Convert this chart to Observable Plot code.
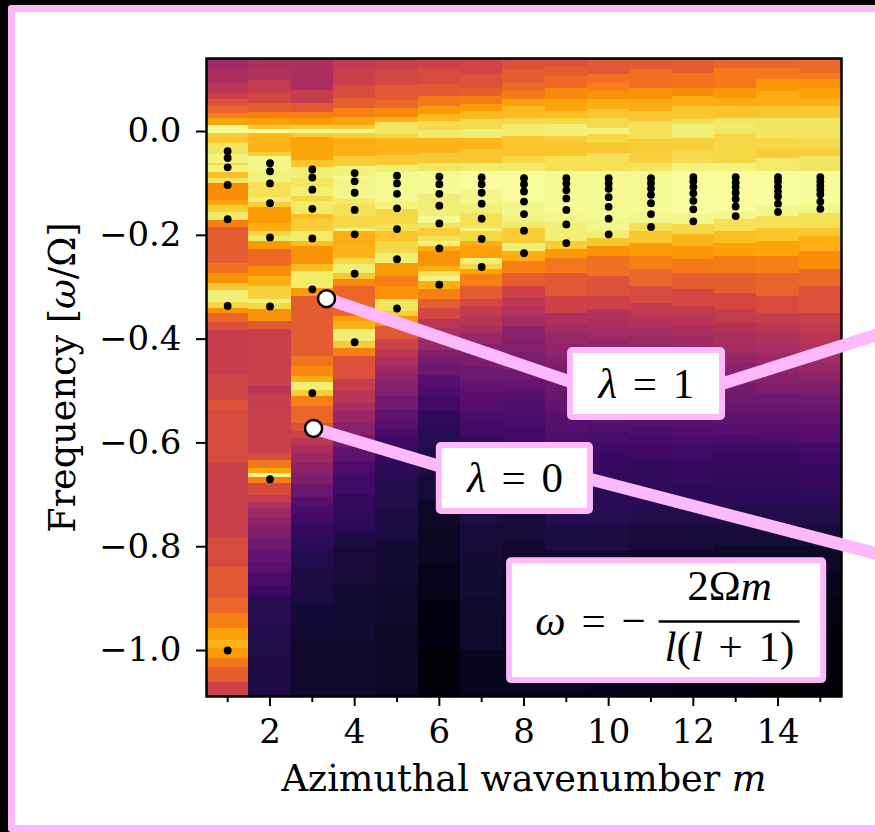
<!DOCTYPE html>
<html><head><meta charset="utf-8">
<script src="https://cdn.jsdelivr.net/npm/d3@7"></script>
<script src="https://cdn.jsdelivr.net/npm/@observablehq/plot@0.6"></script>
<style>
html,body{margin:0;padding:0;background:#000;width:875px;height:832px;overflow:hidden}
#frame{position:absolute;left:8px;top:5px;width:900px;height:813px;background:#fff;border:7px solid #fdb9fc;border-radius:3px}
#chart{position:absolute;left:0;top:0}
</style></head><body>
<div id="frame"></div><div id="chart"></div>
<script>
// Each band: [upper frequency edge, normalised power]
const column1=[[.141,.43],[.119,.46],[.092,.50],[.073,.54],[.062,.60],[.048,.65],[.035,.72],[.025,.80],[.012,.98],[-.004,.88],[-.012,.87],[-.023,.93],[-.044,.96],[-.062,.90],[-.066,.96],[-.079,.85],[-.091,.93],[-.100,.75],[-.133,.80],[-.143,.88],[-.156,.94],[-.171,.72],[-.185,.63],[-.254,.68],[-.274,.76],[-.293,.87],[-.306,.95],[-.329,.90],[-.341,.76],[-.351,.66],[-.368,.60],[-.383,.53],[-.470,.56],[-.518,.60],[-.538,.58],[-.640,.54],[-.782,.58],[-.840,.62],[-.898,.66],[-.929,.72],[-.958,.79],[-.981,.83],[-.996,.78],[-1.015,.70],[-1.033,.64],[-1.062,.55]];
const column2=[[.141,.46],[.119,.47],[.098,.52],[.073,.57],[.054,.63],[.037,.72],[.025,.79],[.012,.87],[.004,.99],[-.004,.84],[-.012,.83],[-.040,.88],[-.048,.97],[-.075,.96],[-.098,.92],[-.127,.95],[-.137,.88],[-.146,.78],[-.177,.82],[-.193,.90],[-.202,.94],[-.212,.78],[-.227,.67],[-.260,.75],[-.279,.82],[-.299,.89],[-.324,.95],[-.331,.90],[-.343,.76],[-.366,.62],[-.382,.54],[-.491,.49],[-.507,.53],[-.536,.54],[-.620,.58],[-.634,.70],[-.649,.80],[-.659,.97],[-.667,.72],[-.678,.58],[-.701,.52],[-.715,.47],[-.726,.42],[-.745,.38],[-.763,.35],[-.785,.31],[-.807,.28],[-.83,.25],[-.852,.22],[-.875,.18],[-.898,.14],[-.95,.13],[-1.00,.12]];
const column3=[[.141,.46],[.079,.53],[.054,.62],[.037,.72],[.025,.78],[.012,.88],[.004,.98],[-.004,.87],[-.012,.80],[-.056,.86],[-.069,.95],[-.091,.93],[-.108,.95],[-.125,.90],[-.135,.94],[-.160,.85],[-.170,.88],[-.193,.94],[-.212,.85],[-.222,.76],[-.256,.84],[-.270,.94],[-.303,.78],[-.318,.63],[-.434,.69],[-.453,.74],[-.472,.82],[-.484,.95],[-.499,.88],[-.511,.72],[-.530,.66],[-.563,.60],[-.578,.55],[-.592,.50],[-.605,.46],[-.62,.42],[-.64,.38],[-.659,.35],[-.68,.30],[-.705,.25],[-.72,.22],[-.736,.20],[-.76,.17],[-.782,.15],[-.81,.13],[-.84,.11],[-.91,.095],[-.98,.08]];
const column4=[[.141,.52],[.119,.54],[.089,.58],[.064,.64],[.044,.72],[.027,.80],[.012,.88],[.004,.97],[-.004,.88],[-.013,.82],[-.048,.88],[-.067,.96],[-.087,.98],[-.091,.97],[-.131,.94],[-.141,.92],[-.164,.90],[-.187,.96],[-.193,.82],[-.222,.83],[-.245,.90],[-.256,.95],[-.274,.87],[-.285,.74],[-.299,.66],[-.356,.78],[-.366,.82],[-.382,.95],[-.405,.88],[-.418,.72],[-.434,.60],[-.478,.53],[-.50,.49],[-.524,.45],[-.54,.41],[-.563,.37],[-.585,.32],[-.609,.27],[-.635,.23],[-.659,.20],[-.70,.17],[-.736,.15],[-.77,.12],[-.801,.10],[-.88,.09],[-.98,.08]];
const column5=[[.141,.54],[.118,.57],[.089,.62],[.060,.66],[.044,.74],[.027,.83],[.017,.93],[-.006,.90],[-.013,.83],[-.046,.87],[-.066,.95],[-.079,.98],[-.135,.96],[-.150,.90],[-.179,.92],[-.193,.86],[-.212,.90],[-.235,.95],[-.254,.78],[-.279,.72],[-.299,.76],[-.324,.93],[-.347,.88],[-.356,.77],[-.376,.62],[-.401,.55],[-.42,.50],[-.435,.46],[-.453,.42],[-.47,.39],[-.486,.36],[-.51,.32],[-.536,.28],[-.555,.25],[-.574,.22],[-.59,.19],[-.609,.17],[-.64,.15],[-.672,.13],[-.73,.11],[-.79,.09],[-.87,.08],[-.95,.07]];
const column6=[[.141,.55],[.121,.58],[.091,.62],[.067,.70],[.048,.77],[.033,.84],[.019,.91],[.002,.94],[-.013,.83],[-.042,.87],[-.062,.93],[-.077,.98],[-.121,.95],[-.164,.98],[-.177,.93],[-.187,.88],[-.202,.92],[-.212,.96],[-.222,.82],[-.231,.76],[-.260,.82],[-.270,.92],[-.279,.96],[-.289,.82],[-.304,.72],[-.324,.64],[-.341,.57],[-.362,.50],[-.38,.46],[-.403,.42],[-.422,.35],[-.44,.32],[-.453,.30],[-.47,.26],[-.49,.23],[-.51,.20],[-.54,.16],[-.575,.14],[-.61,.12],[-.66,.10],[-.71,.07],[-.76,.06],[-.83,.045],[-.904,.03],[-1.0,.015]];
const column7=[[.141,.56],[.110,.60],[.083,.64],[.067,.71],[.052,.78],[.039,.84],[.023,.91],[.004,.95],[-.013,.83],[-.035,.87],[-.062,.94],[-.077,.99],[-.112,.97],[-.141,.95],[-.158,.92],[-.187,.96],[-.193,.90],[-.212,.82],[-.222,.79],[-.245,.95],[-.256,.90],[-.266,.80],[-.276,.72],[-.299,.63],[-.324,.57],[-.337,.52],[-.356,.49],[-.376,.46],[-.39,.41],[-.41,.37],[-.43,.34],[-.455,.31],[-.48,.28],[-.50,.26],[-.52,.24],[-.54,.22],[-.56,.20],[-.59,.17],[-.62,.15],[-.66,.13],[-.71,.11],[-.76,.10],[-.82,.09],[-.90,.08],[-1.0,.05]];
const column8=[[.141,.60],[.119,.63],[.092,.67],[.077,.71],[.062,.79],[.048,.84],[.025,.90],[.013,.94],[-.010,.87],[-.023,.86],[-.048,.90],[-.062,.94],[-.077,.99],[-.135,.97],[-.164,.96],[-.177,.94],[-.187,.88],[-.216,.95],[-.231,.82],[-.250,.72],[-.274,.64],[-.299,.55],[-.32,.51],[-.337,.48],[-.356,.44],[-.376,.38],[-.40,.36],[-.425,.34],[-.46,.31],[-.48,.28],[-.50,.25],[-.52,.23],[-.545,.22],[-.57,.20],[-.60,.18],[-.63,.16],[-.66,.14],[-.70,.12],[-.74,.10],[-.79,.08],[-.85,.07],[-.93,.06],[-1.0,.05]];
const column9=[[.141,.60],[.125,.63],[.106,.67],[.083,.74],[.062,.80],[.039,.85],[.025,.90],[.013,.95],[-.010,.88],[-.023,.86],[-.048,.92],[-.077,.98],[-.158,.97],[-.177,.95],[-.212,.88],[-.227,.78],[-.245,.70],[-.274,.62],[-.318,.55],[-.351,.47],[-.37,.44],[-.389,.41],[-.41,.39],[-.434,.36],[-.455,.33],[-.48,.31],[-.50,.29],[-.518,.28],[-.54,.26],[-.557,.25],[-.58,.23],[-.60,.21],[-.62,.19],[-.65,.17],[-.68,.16],[-.72,.14],[-.76,.11],[-.81,.08],[-.87,.06],[-.95,.05]];
const column10=[[.141,.62],[.110,.68],[.092,.72],[.077,.76],[.062,.82],[.042,.87],[.025,.91],[.006,.96],[-.006,.90],[-.023,.87],[-.042,.92],[-.077,.98],[-.168,.97],[-.193,.95],[-.206,.87],[-.222,.76],[-.241,.68],[-.279,.60],[-.318,.55],[-.343,.48],[-.362,.46],[-.382,.43],[-.40,.40],[-.42,.37],[-.44,.35],[-.46,.33],[-.48,.31],[-.50,.29],[-.52,.27],[-.54,.26],[-.56,.24],[-.58,.22],[-.60,.20],[-.62,.18],[-.65,.17],[-.68,.15],[-.72,.14],[-.76,.11],[-.81,.08],[-.87,.06],[-.93,.05],[-1.0,.045]];
const column11=[[.141,.62],[.119,.68],[.083,.76],[.062,.81],[.039,.87],[.019,.92],[-.015,.88],[-.042,.89],[-.062,.93],[-.077,.98],[-.158,.97],[-.177,.92],[-.193,.87],[-.216,.78],[-.241,.72],[-.266,.66],[-.299,.58],[-.331,.52],[-.346,.50],[-.362,.47],[-.38,.44],[-.395,.42],[-.414,.39],[-.434,.36],[-.453,.34],[-.472,.32],[-.491,.30],[-.511,.28],[-.53,.27],[-.549,.25],[-.568,.23],[-.588,.21],[-.607,.19],[-.63,.17],[-.65,.16],[-.68,.15],[-.72,.13],[-.76,.10],[-.81,.07],[-.87,.05],[-.93,.04],[-1.0,.035]];
const column12=[[.141,.63],[.112,.69],[.083,.74],[.067,.81],[.048,.87],[.023,.92],[.013,.95],[-.013,.89],[-.039,.91],[-.062,.96],[-.077,.99],[-.160,.97],[-.179,.90],[-.198,.83],[-.222,.77],[-.247,.70],[-.274,.63],[-.304,.57],[-.337,.52],[-.357,.49],[-.376,.46],[-.395,.43],[-.414,.40],[-.434,.37],[-.453,.35],[-.472,.33],[-.491,.31],[-.511,.29],[-.53,.27],[-.549,.26],[-.568,.24],[-.588,.22],[-.607,.20],[-.63,.18],[-.65,.17],[-.68,.15],[-.72,.13],[-.76,.10],[-.81,.07],[-.87,.05],[-.93,.03],[-1.0,.025]];
const column13=[[.141,.66],[.121,.70],[.083,.77],[.064,.81],[.048,.86],[.025,.93],[.013,.94],[.004,.93],[-.006,.90],[-.042,.90],[-.062,.96],[-.077,.99],[-.154,.97],[-.170,.92],[-.193,.85],[-.216,.79],[-.241,.71],[-.274,.64],[-.312,.57],[-.343,.52],[-.37,.48],[-.389,.46],[-.408,.44],[-.428,.41],[-.447,.38],[-.466,.36],[-.486,.33],[-.505,.31],[-.524,.29],[-.543,.27],[-.563,.25],[-.582,.22],[-.601,.20],[-.62,.18],[-.64,.17],[-.66,.16],[-.69,.15],[-.72,.13],[-.76,.10],[-.80,.07],[-.85,.05],[-.90,.035],[-.96,.02]];
const column14=[[.141,.66],[.121,.70],[.100,.77],[.077,.81],[.048,.87],[.025,.93],[-.013,.90],[-.033,.88],[-.052,.94],[-.077,.99],[-.145,.97],[-.164,.92],[-.187,.86],[-.212,.80],[-.241,.72],[-.274,.65],[-.318,.58],[-.351,.53],[-.37,.50],[-.389,.47],[-.408,.45],[-.428,.42],[-.447,.39],[-.466,.37],[-.486,.34],[-.505,.31],[-.524,.29],[-.543,.27],[-.563,.25],[-.582,.23],[-.601,.20],[-.62,.18],[-.64,.17],[-.66,.16],[-.69,.15],[-.72,.13],[-.76,.10],[-.80,.07],[-.85,.05],[-.90,.03],[-.96,.015],[-1.02,.01]];
const column15=[[.141,.67],[.112,.70],[.100,.76],[.083,.79],[.064,.82],[.048,.87],[.025,.93],[-.013,.91],[-.033,.89],[-.048,.93],[-.077,.985],[-.141,.97],[-.158,.92],[-.187,.87],[-.202,.82],[-.231,.75],[-.266,.67],[-.299,.60],[-.351,.54],[-.37,.52],[-.389,.49],[-.408,.47],[-.428,.44],[-.447,.41],[-.466,.38],[-.486,.35],[-.505,.32],[-.524,.30],[-.543,.28],[-.563,.26],[-.582,.24],[-.601,.21],[-.62,.19],[-.64,.18],[-.66,.17],[-.69,.15],[-.72,.13],[-.76,.10],[-.80,.07],[-.85,.05],[-.90,.035],[-.96,.02],[-1.02,.015]];
const columns=[column1,column2,column3,column4,column5,column6,column7,column8,column9,column10,column11,column12,column13,column14,column15];

// Observed spectral peaks for each azimuthal wavenumber
const peaks1=[-.038,-.051,-.069,-.103,-.169,-.336,-1.0];
const peaks2=[-.061,-.0765,-.100,-.138,-.204,-.337,-.670];
const peaks3=[-.073,-.0886,-.112,-.149,-.206,-.304,-.504];
const peaks4=[-.080,-.096,-.118,-.151,-.198,-.274,-.406];
const peaks5=[-.085,-.100,-.120,-.148,-.188,-.246,-.341];
const peaks6=[-.087,-.1015,-.120,-.143,-.177,-.225,-.295];
const peaks7=[-.0886,-.1015,-.118,-.139,-.168,-.207,-.261];
const peaks8=[-.090,-.1015,-.1156,-.135,-.159,-.191,-.2345];
const peaks9=[-.090,-.100,-.113,-.129,-.151,-.179,-.215];
const peaks10=[-.090,-.0995,-.1105,-.1265,-.145,-.168,-.198];
const peaks11=[-.090,-.0995,-.110,-.122,-.138,-.159,-.184];
const peaks12=[-.088,-.096,-.107,-.119,-.1335,-.150,-.173];
const peaks13=[-.088,-.098,-.107,-.118,-.130,-.1445,-.163];
const peaks14=[-.088,-.096,-.106,-.1156,-.125,-.139,-.155];
const peaks15=[-.088,-.096,-.104,-.112,-.121,-.135,-.149];
const peaks=[peaks1,peaks2,peaks3,peaks4,peaks5,peaks6,peaks7,peaks8,peaks9,peaks10,peaks11,peaks12,peaks13,peaks14,peaks15];

const xMajor=[2,4,6,8,10,12,14];
const xMinor=[1,3,5,7,9,11,13,15];
const yTicks=[0,-.2,-.4,-.6,-.8,-1];
const xLabel="Azimuthal wavenumber *m*";
const yLabel="Frequency [*ω*/Ω]";

const pink="#fdb9fc";
const callouts=[
 {x1:3.335,y1:-.322,x2:10.89,y2:-.532},
 {x1:10.89,y1:-.532,x2:16.6,y2:-.385},
 {x1:3.03,y1:-.572,x2:7.78,y2:-.688},
 {x1:7.78,y1:-.632,x2:16.6,y2:-.819}
];
const markers=[{m:3.335,w:-.322},{m:3.03,w:-.572}];
const boxes=[
 {x1:9.10,x2:12.69,y1:-.422,y2:-.551},
 {x1:6.00,x2:9.57,y1:-.605,y2:-.732},
 {x1:7.66,x2:15.08,y1:-.827,y2:-1.058}
];
const labels=[
 {m:10.89,w:-.486,s:"*λ* = 1"},
 {m:7.79,w:-.669,s:"*λ* = 0"},
 {m:9.57,w:-.944,s:"*ω* = −"},
 {m:12.855,w:-.877,s:"2Ω*m*"},
 {m:12.855,w:-.994,s:"*l*(*l* + 1)"}
];
const fractionBar=[{x1:11.18,x2:14.51,y:-.944}];

const cells=columns.flatMap((bands,i)=>bands.map(([top,t],j)=>({
  x1:i+.5,x2:i+1.5,y1:top,y2:j+1<bands.length?bands[j+1][0]:-1.0886,t})));
const dots=peaks.flatMap((list,i)=>list.map(w=>({m:i+1,w})));
const serif="DejaVu Serif";

const svg=Plot.plot({
  width:875,height:832,marginLeft:206,marginRight:34,marginTop:58,marginBottom:136,
  style:{background:"transparent",fontFamily:serif,fontSize:"34px",overflow:"visible"},
  x:{domain:[.5,15.5]},
  y:{domain:[-1.0886,.1407]},
  color:{type:"linear",scheme:"inferno",domain:[0,1]},
  marks:[
    Plot.rect(cells,{x1:"x1",x2:"x2",y1:"y1",y2:"y2",fill:"t",shapeRendering:"crispEdges"}),
    Plot.dot(dots,{x:"m",y:"w",r:3.9,fill:"#000"}),
    Plot.frame({stroke:"#000",strokeWidth:2.5}),
    Plot.axisX({ticks:xMajor,tickSize:10,tickPadding:12,strokeWidth:2,stroke:"#000",fontSize:34,fontFamily:serif,tickFormat:d3.format("d"),label:xLabel,labelAnchor:"center",labelArrow:"none",labelOffset:94}),
    Plot.axisX({ticks:xMinor,tickSize:6,strokeWidth:2,stroke:"#000",tickFormat:()=>"",label:null}),
    Plot.axisY({ticks:yTicks,tickSize:10,tickPadding:15,strokeWidth:2,stroke:"#000",fontSize:34,fontFamily:serif,tickFormat:d3.format(".1f"),label:yLabel,labelAnchor:"center",labelArrow:"none",labelOffset:158}),
    Plot.link(callouts,{x1:"x1",y1:"y1",x2:"x2",y2:"y2",stroke:pink,strokeWidth:12.5,clip:false}),
    Plot.dot(markers,{x:"m",y:"w",r:8.5,fill:"#fff",stroke:"#000",strokeWidth:2.5,clip:false}),
    Plot.rect(boxes,{x1:"x1",x2:"x2",y1:"y1",y2:"y2",fill:"#fff",stroke:pink,strokeWidth:6,r:2}),
    Plot.link(fractionBar,{x1:"x1",x2:"x2",y1:"y",y2:"y",stroke:"#000",strokeWidth:2.5}),
    Plot.text(labels,{x:"m",y:"w",text:"s",fontFamily:"Liberation Serif",fontSize:43,fill:"#000",textAnchor:"middle",lineAnchor:"middle"})
  ]
});

// Turn *x* markers in the strings into italic runs
svg.querySelectorAll("text").forEach(t=>{
  const s=t.textContent;
  if(!s.includes("*")||t.children.length) return;
  const isMath=labels.some(d=>d.s===s);
  t.setAttribute("style",(t.getAttribute("style")||"")+(isMath?";word-spacing:5px":";font-size:36.6px"));
  t.textContent="";
  s.split("*").forEach((part,i)=>{
    if(!part) return;
    const ts=document.createElementNS("http://www.w3.org/2000/svg","tspan");
    ts.textContent=part;
    if(i%2) ts.setAttribute("font-style","italic");
    t.appendChild(ts);
  });
});
document.getElementById("chart").appendChild(svg);
</script>
</body></html>
